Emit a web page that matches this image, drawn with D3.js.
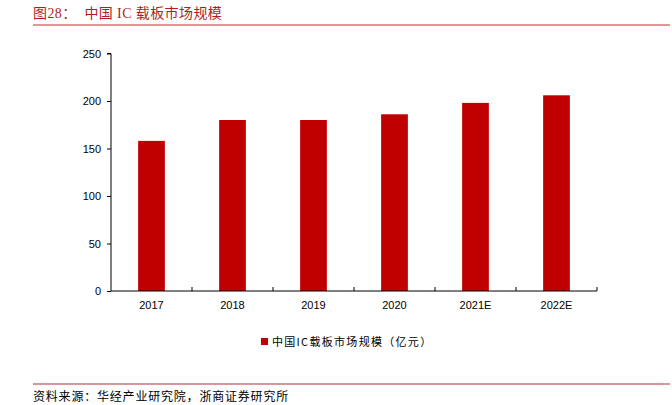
<!DOCTYPE html>
<html><head><meta charset="utf-8">
<script src="https://cdn.jsdelivr.net/npm/d3@7"></script>
<style>body{margin:0;background:#fff}svg{display:block}</style>
</head><body>
<script>
const categories = ["2017","2018","2019","2020","2021E","2022E"];
const values = [158, 180, 180, 186, 198, 206];
const yTicks = [0,50,100,150,200,250];
const seriesName = "中国IC载板市场规模（亿元）";
const titleText = "图28：  中国 IC 载板市场规模";
const sourceText = "资料来源：华经产业研究院，浙商证券研究所";

const W=672,H=405;
const svg=d3.select("body").append("svg").attr("width",W).attr("height",H);
const red="#C00000";

// title
svg.append("text").attr("x",33).attr("y",18).attr("fill","#B01E24")
  .style("font-family","'Liberation Serif','Noto Sans CJK SC',serif").style("font-size","14px")
  .style("letter-spacing","0.4px")
  .attr("xml:space","preserve").text(titleText);
svg.append("line").attr("x1",33).attr("x2",670).attr("y1",25).attr("y2",25).attr("stroke","#D9262C").attr("stroke-width",1.2);

const plot={l:111,r:597,t:53.5,b:291};
const x=d3.scaleBand().domain(categories).range([plot.l,plot.r]).paddingInner(0.67).paddingOuter(0.335);
const xOuter=d3.scaleBand().domain(categories).range([plot.l,plot.r]);
const y=d3.scaleLinear().domain([0,250]).range([plot.b,plot.t]);

svg.append("g").selectAll("rect").data(values).join("rect")
  .attr("x",(d,i)=>x(categories[i])).attr("width",x.bandwidth())
  .attr("y",d=>y(d)).attr("height",d=>y(0)-y(d)).attr("fill",red);

const font="'Liberation Sans',Arial,sans-serif";
// y axis
const yAxis=svg.append("g").attr("transform",`translate(${plot.l},0)`)
  .call(d3.axisLeft(y).tickValues(yTicks).tickSize(4).tickPadding(6));
yAxis.select(".domain").attr("d",`M-4,${plot.t}H0V${plot.b}`);
yAxis.selectAll("text").style("font-family",font).style("font-size","11px").attr("fill","#000");
yAxis.selectAll("line,path").attr("stroke","#000");

// x axis
const xg=svg.append("g").attr("transform",`translate(0,${plot.b})`);
xg.append("line").attr("x1",plot.l).attr("x2",plot.r).attr("stroke","#000");
const bounds=categories.map(c=>xOuter(c)+xOuter.bandwidth()).slice(0,-1).concat([plot.r]);
xg.selectAll("line.tk").data(bounds).join("line").attr("class","tk")
  .attr("x1",d=>d).attr("x2",d=>d).attr("y1",0).attr("y2",-4).attr("stroke","#000");
xg.selectAll("text").data(categories).join("text")
  .attr("x",c=>xOuter(c)+xOuter.bandwidth()/2).attr("y",18).attr("text-anchor","middle")
  .style("font-family",font).style("font-size","11px").text(c=>c);

// legend
svg.append("rect").attr("x",261).attr("y",338).attr("width",7).attr("height",7).attr("fill",red);
svg.append("text").attr("x",272).attr("y",346).style("font-family","'Noto Sans CJK SC',sans-serif")
  .style("font-size","11px").style("letter-spacing","1.3px").attr("fill","#000").text(seriesName);

// footer
svg.append("line").attr("x1",33).attr("x2",670).attr("y1",384).attr("y2",384).attr("stroke","#B0303A").attr("stroke-width",1.2);
svg.append("text").attr("x",33).attr("y",401).style("font-family","'Noto Sans CJK SC',sans-serif")
  .style("font-size","12px").style("letter-spacing","0.8px").attr("fill","#000").text(sourceText);
</script>
</body></html>
